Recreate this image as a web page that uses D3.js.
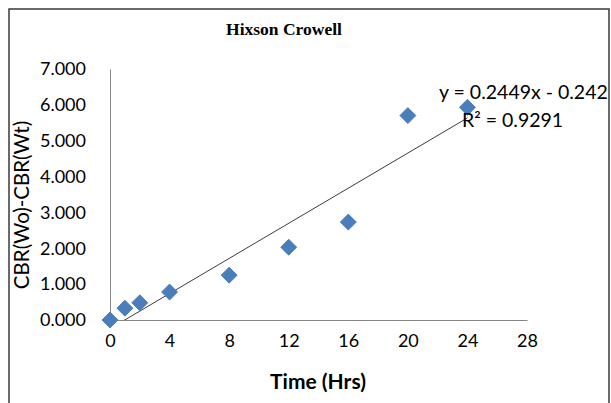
<!DOCTYPE html>
<html>
<head>
<meta charset="utf-8">
<script src="https://cdn.jsdelivr.net/npm/d3@7"></script>
<style>
  html, body { margin: 0; padding: 0; background: #fff; }
  svg { display: block; }
  text { font-family: Lato, "Open Sans", sans-serif; fill: #000; }
</style>
</head>
<body>
<svg id="chart"></svg>
<script>
// data
const hours = [0, 1, 2, 4, 8, 12, 16, 20, 24];
const cbrDiff = [0.0, 0.33, 0.48, 0.78, 1.25, 2.03, 2.73, 5.7, 5.93];
const xTicks = [0, 4, 8, 12, 16, 20, 24, 28];
const yTicks = [0, 1, 2, 3, 4, 5, 6, 7];
const slope = 0.2449;
const intercept = -0.242;
const rSquared = 0.9291;

const width = 611;
const height = 403;
const margin = { top: 69, right: 84, bottom: 83, left: 110 };

const svg = d3.select("#chart")
    .attr("width", width)
    .attr("height", height);

// chart frame (bottom edge sits outside the picture)
svg.append("path")
    .attr("d", "M9,403 V9 H609 V403")
    .attr("fill", "none")
    .attr("stroke", "#3a3a3a")
    .attr("stroke-width", 1.5);

const innerWidth = width - margin.left - margin.right;
const innerHeight = height - margin.top - margin.bottom;

const xScale = d3.scaleLinear()
    .domain([0, 28])
    .range([margin.left, margin.left + innerWidth]);

const yScale = d3.scaleLinear()
    .domain([0, 7])
    .range([margin.top + innerHeight, margin.top]);

svg.append("defs").append("clipPath")
    .attr("id", "plotClip")
    .append("rect")
    .attr("x", margin.left)
    .attr("y", margin.top)
    .attr("width", innerWidth)
    .attr("height", innerHeight);

// Axes
const xAxis = d3.axisBottom(xScale)
    .tickValues(xTicks)
    .tickSize(0)
    .tickPadding(14)
    .tickFormat(d3.format("d"));

const yAxis = d3.axisLeft(yScale)
    .tickValues(yTicks)
    .tickSize(0)
    .tickPadding(24)
    .tickFormat(d3.format(".3f"));

const xAxisGroup = svg.append("g")
    .attr("transform", `translate(0, ${yScale(0)})`)
    .call(xAxis);

const yAxisGroup = svg.append("g")
    .attr("transform", `translate(${xScale(0)}, 0)`)
    .call(yAxis);

[xAxisGroup, yAxisGroup].forEach(g => {
    g.attr("font-family", "Lato, sans-serif").attr("font-size", 18);
    g.select(".domain").attr("stroke", "#868686").attr("stroke-width", 1);
    g.selectAll("text").attr("fill", "#000");
});

// Axis titles
svg.append("text")
    .attr("text-anchor", "middle")
    .attr("x", 318)
    .attr("y", 389)
    .attr("font-size", 21)
    .attr("font-weight", "bold")
    .text("Time (Hrs)");

svg.append("text")
    .attr("text-anchor", "middle")
    .attr("transform", `translate(29, 205) rotate(-90)`)
    .attr("font-size", 20.5)
    .text("CBR(Wo)-CBR(Wt)");

// Title
svg.append("text")
    .attr("text-anchor", "middle")
    .attr("x", 284)
    .attr("y", 35)
    .attr("font-size", 17.5)
    .attr("font-weight", "bold")
    .style("font-family", "'Liberation Serif', serif")
    .text("Hixson Crowell");

// Linear trendline
svg.append("line")
    .attr("clip-path", "url(#plotClip)")
    .attr("x1", xScale(0))
    .attr("y1", yScale(intercept))
    .attr("x2", xScale(24))
    .attr("y2", yScale(slope * 24 + intercept))
    .attr("stroke", "#3c3c3c")
    .attr("stroke-width", 1);

// Points (diamonds)
const diamond = d3.symbol().type(d3.symbolSquare).size(128);

svg.selectAll("path.pt")
    .data(hours.map((h, i) => ({ x: h, y: cbrDiff[i] })))
    .enter()
    .append("path")
    .attr("class", "pt")
    .attr("d", diamond)
    .attr("transform", d => `translate(${xScale(d.x)}, ${yScale(d.y)}) rotate(45)`)
    .attr("fill", "#4a7ebb")
    .attr("stroke", "#4577b3")
    .attr("stroke-width", 0.8);

// Trendline equation
svg.append("text")
    .attr("x", 439)
    .attr("y", 99)
    .attr("font-size", 19.5)
    .text(`y = ${slope}x - ${Math.abs(intercept)}`);

svg.append("text")
    .attr("x", 462)
    .attr("y", 127)
    .attr("font-size", 19.5)
    .text(`R² = ${rSquared}`);
</script>
</body>
</html>
